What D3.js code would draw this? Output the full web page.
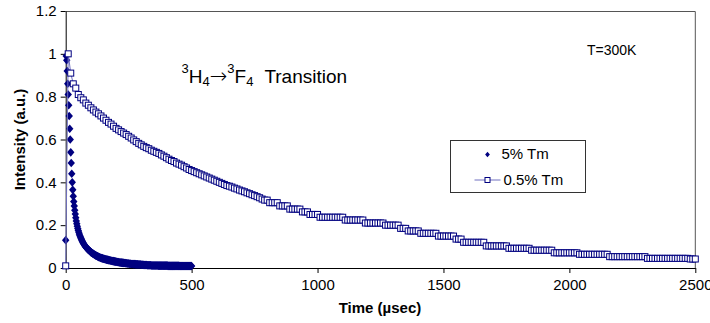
<!DOCTYPE html>
<html>
<head>
<meta charset="utf-8">
<script src="https://d3js.org/d3.v7.min.js"></script>
<style>
  body { margin: 0; background: #fff; }
  svg { display: block; font-family: "Liberation Sans", Arial, sans-serif; }
</style>
</head>
<body>
<div id="chart"></div>
<script>
// Decay curves, sampled at a fixed step (µsec)
const tm5Step = 2;
const tm5Values = [
  0.13, 0.99, 0.97, 0.92, 0.86, 0.81, 0.76, 0.71, 0.65, 0.60, 0.54, 0.49, 0.44, 0.40, 0.365, 0.335,
  0.31, 0.29, 0.27, 0.252, 0.235, 0.22, 0.207, 0.195, 0.184, 0.175, 0.167, 0.159, 0.152, 0.146, 0.14,
  0.135, 0.13, 0.125, 0.12, 0.116, 0.112, 0.108, 0.104, 0.101, 0.098,
  0.095, 0.092, 0.09, 0.087, 0.085, 0.083, 0.081, 0.079, 0.077, 0.074,
  0.072, 0.071, 0.069, 0.067, 0.066, 0.064, 0.063, 0.061, 0.06, 0.058,
  0.057, 0.056, 0.055, 0.053, 0.052, 0.051, 0.05, 0.049, 0.048, 0.047,
  0.046, 0.046, 0.045, 0.044, 0.043, 0.043, 0.042, 0.041, 0.041, 0.04,
  0.039, 0.039, 0.038, 0.038, 0.037, 0.036, 0.036, 0.035, 0.035, 0.034,
  0.034, 0.033, 0.033, 0.032, 0.032, 0.031, 0.031, 0.030, 0.030, 0.029,
  0.029, 0.028, 0.028, 0.028, 0.027, 0.027, 0.026, 0.026, 0.026, 0.025,
  0.025, 0.025, 0.024, 0.024, 0.024, 0.023, 0.023, 0.023, 0.022, 0.022,
  0.022, 0.021, 0.021, 0.021, 0.021, 0.020, 0.020, 0.020, 0.020, 0.019,
  0.019, 0.019, 0.019, 0.018, 0.018, 0.018, 0.018, 0.018, 0.017, 0.017,
  0.017, 0.017, 0.017, 0.016, 0.016, 0.016, 0.016, 0.016, 0.016, 0.015,
  0.015, 0.015, 0.015, 0.015, 0.014, 0.014, 0.014, 0.014, 0.014, 0.014,
  0.014, 0.013, 0.013, 0.013, 0.013, 0.013, 0.013, 0.013, 0.013, 0.012,
  0.012, 0.012, 0.012, 0.012, 0.012, 0.012, 0.012, 0.012, 0.012, 0.012,
  0.012, 0.012, 0.012, 0.011, 0.011, 0.011, 0.011, 0.011, 0.011, 0.011,
  0.011, 0.011, 0.011, 0.011, 0.011, 0.011, 0.011, 0.011, 0.011, 0.011,
  0.011, 0.011, 0.010, 0.010, 0.010, 0.010, 0.010, 0.010, 0.010, 0.010,
  0.010, 0.010, 0.010, 0.010, 0.010, 0.010, 0.010, 0.010, 0.010, 0.010,
  0.010, 0.010, 0.010, 0.010, 0.010, 0.009, 0.009, 0.009, 0.009, 0.009,
  0.009, 0.009, 0.009, 0.009, 0.009, 0.009, 0.009, 0.009, 0.009, 0.009,
  0.009, 0.009, 0.009, 0.009, 0.009, 0.009, 0.009, 0.009, 0.009, 0.009
];

const tm05Step = 10;
const tm05Values = [
  0.01,
  1.0, 0.91, 0.86, 0.84, 0.81, 0.795, 0.785, 0.77, 0.76, 0.748,
  0.738, 0.728, 0.72, 0.71, 0.70, 0.69, 0.68, 0.672, 0.662, 0.652,
  0.645, 0.637, 0.63, 0.623, 0.615, 0.607, 0.598, 0.59, 0.582, 0.575,
  0.568, 0.562, 0.557, 0.55, 0.545, 0.54, 0.535, 0.528, 0.522, 0.515,
  0.508, 0.502, 0.497, 0.49, 0.485, 0.48, 0.473, 0.467, 0.46, 0.455,
  0.45, 0.445, 0.44, 0.435, 0.43, 0.425, 0.42, 0.415, 0.41, 0.405,
  0.40, 0.395, 0.39, 0.385, 0.382, 0.378, 0.373, 0.369, 0.364, 0.36,
  0.356, 0.351, 0.347, 0.342, 0.338, 0.333, 0.328, 0.322, 0.317, 0.317,
  0.305, 0.305, 0.305, 0.305, 0.29, 0.29, 0.29, 0.29, 0.275, 0.275,
  0.275, 0.275, 0.275, 0.262, 0.262, 0.262, 0.25, 0.25, 0.25, 0.25,
  0.237, 0.237, 0.237, 0.237, 0.237, 0.237, 0.237, 0.237, 0.237, 0.237,
  0.224, 0.224, 0.224, 0.224, 0.224, 0.224, 0.224, 0.224, 0.21, 0.21,
  0.21, 0.21, 0.21, 0.21, 0.21, 0.21, 0.2, 0.2, 0.2, 0.2,
  0.2, 0.2, 0.185, 0.185, 0.185, 0.173, 0.173, 0.173, 0.173, 0.173,
  0.162, 0.162, 0.162, 0.162, 0.162, 0.162, 0.162, 0.149, 0.149, 0.149,
  0.149, 0.149, 0.149, 0.149, 0.135, 0.135, 0.135, 0.12, 0.12, 0.12,
  0.12, 0.12, 0.12, 0.12, 0.12, 0.12, 0.103, 0.103, 0.103, 0.103,
  0.103, 0.103, 0.103, 0.103, 0.103, 0.092, 0.092, 0.092, 0.092, 0.092,
  0.092, 0.092, 0.092, 0.092, 0.083, 0.083, 0.083, 0.083, 0.083, 0.083,
  0.083, 0.083, 0.083, 0.071, 0.071, 0.071, 0.071, 0.071, 0.071, 0.071,
  0.071, 0.071, 0.071, 0.064, 0.064, 0.064, 0.064, 0.064, 0.064, 0.064,
  0.064, 0.064, 0.064, 0.064, 0.064, 0.053, 0.053, 0.053, 0.053, 0.053,
  0.053, 0.053, 0.053, 0.053, 0.053, 0.053, 0.053, 0.053, 0.053, 0.053,
  0.045, 0.045, 0.045, 0.045, 0.045, 0.045, 0.045, 0.045, 0.045, 0.045,
  0.045, 0.045, 0.045, 0.045, 0.045, 0.045, 0.045, 0.042, 0.042, 0.042
];

const xTicks = [0, 500, 1000, 1500, 2000, 2500];
const yTicks = [0, 0.2, 0.4, 0.6, 0.8, 1, 1.2];
const yTickLabels = ['0', '0.2', '0.4', '0.6', '0.8', '1', '1.2'];
const seriesNames = ['5% Tm', '0.5% Tm'];

const tm5 = tm5Values.map((v, i) => ({ t: i * tm5Step, v: v }));
const tm05 = tm05Values.map((v, i) => ({ t: i * tm05Step, v: v }));

// Chart dimensions
const W = 710, H = 323;
const margin = { top: 11, right: 15, bottom: 55, left: 65.7 };
const width = 695.3 - margin.left;
const height = 268 - margin.top;
const navy = '#000080';

const svg = d3.select('#chart')
  .append('svg')
  .attr('width', W)
  .attr('height', H);

const g = svg.append('g')
  .attr('transform', 'translate(' + margin.left + ',' + margin.top + ')');

const xScale = d3.scaleLinear().domain([0, 2500]).range([0, width]);
const yScale = d3.scaleLinear().domain([0, 1.2]).range([height, 0]);

// Plot frame (top and right)
g.append('path')
  .attr('d', 'M0,0.5H' + width + 'V' + height)
  .attr('fill', 'none')
  .attr('stroke', '#555')
  .attr('stroke-width', 1);

// Axes
const xAxis = d3.axisBottom(xScale)
  .tickValues(xTicks)
  .tickSize(5)
  .tickSizeOuter(0)
  .tickPadding(6)
  .tickFormat(d3.format('d'));

const yAxis = d3.axisLeft(yScale)
  .tickValues(yTicks)
  .tickSize(5)
  .tickSizeOuter(0)
  .tickPadding(4)
  .tickFormat((d, i) => yTickLabels[i]);

const gx = g.append('g')
  .attr('transform', 'translate(0,' + height + ')')
  .call(xAxis);

const gy = g.append('g').call(yAxis);

[gx, gy].forEach(a => {
  a.selectAll('text').attr('font-size', 15).attr('font-family', '"Liberation Sans", Arial, sans-serif').attr('fill', '#000');
  a.selectAll('line').attr('stroke', '#000');
  a.select('.domain').attr('stroke', '#000');
});

// Axis titles
svg.append('text')
  .attr('x', 380)
  .attr('y', 313)
  .attr('text-anchor', 'middle')
  .attr('font-size', 15)
  .attr('font-weight', 'bold')
  .text('Time (\u00b5sec)');

svg.append('text')
  .attr('transform', 'translate(25,139.5) rotate(-90)')
  .attr('text-anchor', 'middle')
  .attr('font-size', 15)
  .attr('font-weight', 'bold')
  .text('Intensity (a.u.)');

// Markers
const diamond = 'M0,-4.3L3.7,0L0,4.3L-3.7,0Z';

g.append('g')
  .selectAll('path')
  .data(tm5)
  .enter()
  .append('path')
  .attr('d', diamond)
  .attr('transform', d => 'translate(' + xScale(d.t) + ',' + yScale(d.v) + ')')
  .attr('fill', navy);

const line = d3.line()
  .x(d => xScale(d.t))
  .y(d => yScale(d.v));

g.append('path')
  .datum(tm05)
  .attr('d', line)
  .attr('fill', 'none')
  .attr('stroke', '#7070c0')
  .attr('stroke-width', 1);

g.append('g')
  .selectAll('rect')
  .data(tm05)
  .enter()
  .append('rect')
  .attr('x', d => xScale(d.t) - 3)
  .attr('y', d => yScale(d.v) - 3)
  .attr('width', 6)
  .attr('height', 6)
  .attr('fill', '#fff')
  .attr('stroke', navy)
  .attr('stroke-width', 1);

// Annotations
const title = svg.append('text')
  .attr('x', 181.5)
  .attr('y', 83)
  .attr('font-size', 19);
title.append('tspan').attr('font-size', 13).attr('dy', -10).text('3');
title.append('tspan').attr('dy', 10).text('H');
title.append('tspan').attr('font-size', 13).attr('dy', 3).text('4');
title.append('tspan').attr('dy', -3).attr('font-family', '"DejaVu Sans", sans-serif').attr('font-weight', 200).attr('font-size', 21).text('\u2192');
title.append('tspan').attr('font-size', 13).attr('dy', -10).text('3');
title.append('tspan').attr('dy', 10).text('F');
title.append('tspan').attr('font-size', 13).attr('dy', 3).text('4');
title.append('tspan').attr('dy', -3).attr('dx', 11).text('Transition');

svg.append('text')
  .attr('x', 587)
  .attr('y', 55)
  .attr('font-size', 14)
  .text('T=300K');

// Legend
const legend = svg.append('g').attr('transform', 'translate(450.5,140.5)');
legend.append('rect')
  .attr('width', 135)
  .attr('height', 52)
  .attr('fill', '#fff')
  .attr('stroke', '#333')
  .attr('stroke-width', 1);

legend.append('path')
  .attr('d', 'M0,-2.8L2.4,0L0,2.8L-2.4,0Z')
  .attr('transform', 'translate(37,14)')
  .attr('fill', navy);
legend.append('text')
  .attr('x', 51)
  .attr('y', 18)
  .attr('font-size', 15)
  .text(seriesNames[0]);

legend.append('line')
  .attr('x1', 24).attr('x2', 50)
  .attr('y1', 39.5).attr('y2', 39.5)
  .attr('stroke', '#7070c0');
legend.append('rect')
  .attr('x', 34.5).attr('y', 37)
  .attr('width', 5).attr('height', 5)
  .attr('fill', '#fff')
  .attr('stroke', navy);
legend.append('text')
  .attr('x', 53)
  .attr('y', 44)
  .attr('font-size', 15)
  .text(seriesNames[1]);
</script>
</body>
</html>
